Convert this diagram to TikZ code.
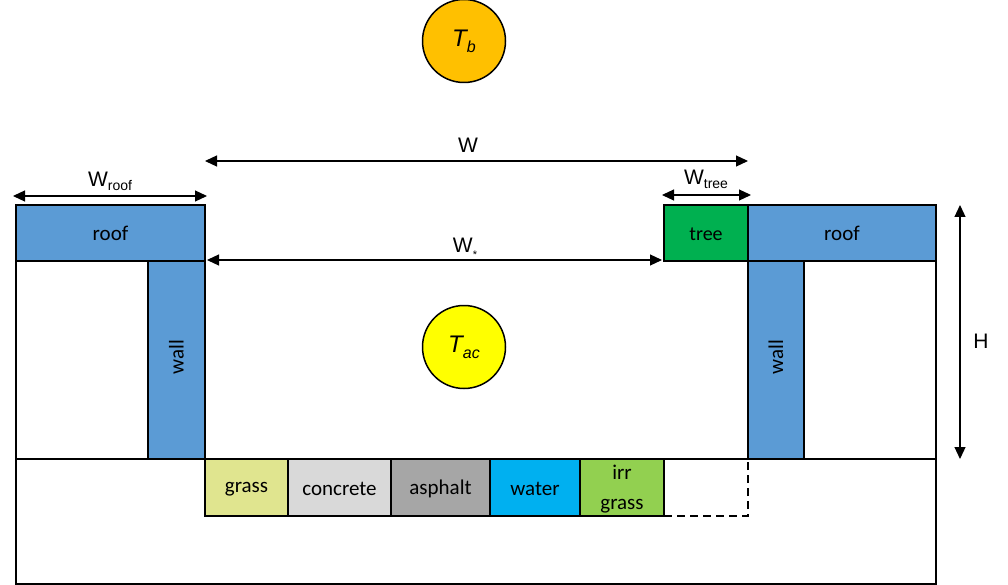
\documentclass[tikz,border=0pt]{standalone}
\usepackage{fontspec}
\setmainfont{Carlito}
\newfontfamily\arialfont{Liberation Sans}
\usetikzlibrary{arrows.meta}
\definecolor{roofblue}{HTML}{5B9BD5}
\definecolor{treegreen}{HTML}{00B050}
\definecolor{tbgold}{HTML}{FFC000}
\definecolor{tacyellow}{HTML}{FFFF00}
\definecolor{grassyel}{HTML}{E0E58F}
\definecolor{concretegray}{HTML}{D9D9D9}
\definecolor{asphaltgray}{HTML}{A6A6A6}
\definecolor{waterblue}{HTML}{00B0F0}
\definecolor{irrgreen}{HTML}{92D050}
\tikzset{
  edge line/.style={line width=2pt},
  dim/.style={{Triangle[length=12pt,width=11pt]}-{Triangle[length=12pt,width=11pt]}, line width=1.2pt},
  biglbl/.style={font=\fontsize{21}{21}\selectfont, inner sep=0pt},
  smalllbl/.style={font=\fontsize{21}{30}\selectfont, inner sep=0pt, align=center},
  dimlbl/.style={font=\arialfont\fontsize{21}{21}\selectfont, inner sep=0pt, anchor=base},
  tempball/.style={circle, draw, line width=1.5pt, minimum size=83pt, inner sep=0pt,
    font=\arialfont\itshape\fontsize{24}{24}\selectfont}
}
\newcommand{\dimsub}[1]{\raisebox{-4pt}{\fontsize{14}{14}\selectfont #1}}

\begin{document}
\begin{tikzpicture}[x=1pt,y=-1pt]
  \useasboundingbox (0,0) rectangle (1008,585);

  % ── Temperatures ──
  \node[tempball, fill=tbgold] (Tb) at (464,41) {T\raisebox{-6pt}{\fontsize{16}{16}\selectfont b}};
  \node[tempball, fill=tacyellow] (Tac) at (464,347) {T\raisebox{-6pt}{\fontsize{16}{16}\selectfont ac}};

  % ── Left building ──
  \draw[edge line] (16,205) rectangle (205,459);
  \draw[edge line, fill=roofblue] (16,205) rectangle (205,261);
  \draw[edge line, fill=roofblue] (148,261) rectangle (205,459);
  \node[biglbl] (roofL) at (110.5,233) {roof};
  \node[biglbl, rotate=90] (wallL) at (176.5,357) {wall};

  % ── Right building ──
  \draw[edge line] (748,205) rectangle (936,459);
  \draw[edge line, fill=roofblue] (748,205) rectangle (936,261);
  \draw[edge line, fill=roofblue] (748,261) rectangle (804,459);
  \draw[edge line, fill=treegreen] (664,205) rectangle (748,261);
  \node[biglbl] (roofR) at (842,233) {roof};
  \node[biglbl, rotate=90] (wallR) at (776,357) {wall};
  \node[smalllbl, font=\fontsize{20}{20}\selectfont] (tree) at (706,234) {tree};

  % ── Ground ──
  \draw[edge line] (16,459) rectangle (936,584);
  \foreach \xa/\xb/\col/\name/\txt in {205/288/grassyel/grass/grass,
      288/391/concretegray/concrete/concrete, 391/490/asphaltgray/asphalt/asphalt,
      490/580/waterblue/water/water, 580/664/irrgreen/irrgrass/{irr\\grass}} {
    \draw[edge line, fill=\col] (\xa,459) rectangle (\xb,516);
    \node[smalllbl] (\name) at ({(\xa+\xb)/2},489) {\txt};
  }
  \draw[edge line, dash pattern=on 8pt off 5pt] (664,516) -- (748,516) -- (748,459);

  % ── Dimensions ──
  \coordinate (wL) at (205,161);  \coordinate (wR) at (748,161);
  \coordinate (wrL) at (13,196);  \coordinate (wrR) at (207,196);
  \coordinate (wtL) at (662,195); \coordinate (wtR) at (751,195);
  \coordinate (wsL) at (207,260); \coordinate (wsR) at (662,260);
  \coordinate (hT) at (960,205);  \coordinate (hB) at (960,459);
  \draw[dim] (wL) -- (wR);
  \draw[dim] (wrL) -- (wrR);
  \draw[dim] (wtL) -- (wtR);
  \draw[dim] (wsL) -- (wsR);
  \draw[dim] (hT) -- (hB);
  \node[dimlbl] (Wlbl) at (468,153) {W};
  \node[dimlbl] (Wroof) at (110,187) {W\dimsub{roof}};
  \node[dimlbl] (Wtree) at (706,185) {W\dimsub{tree}};
  \node[dimlbl] (Wstar) at (465,252) {W\raisebox{-6pt}{\fontsize{11}{11}\selectfont *}};
  \node[dimlbl] (Hlbl) at (981,348) {H};
\end{tikzpicture}
\end{document}
